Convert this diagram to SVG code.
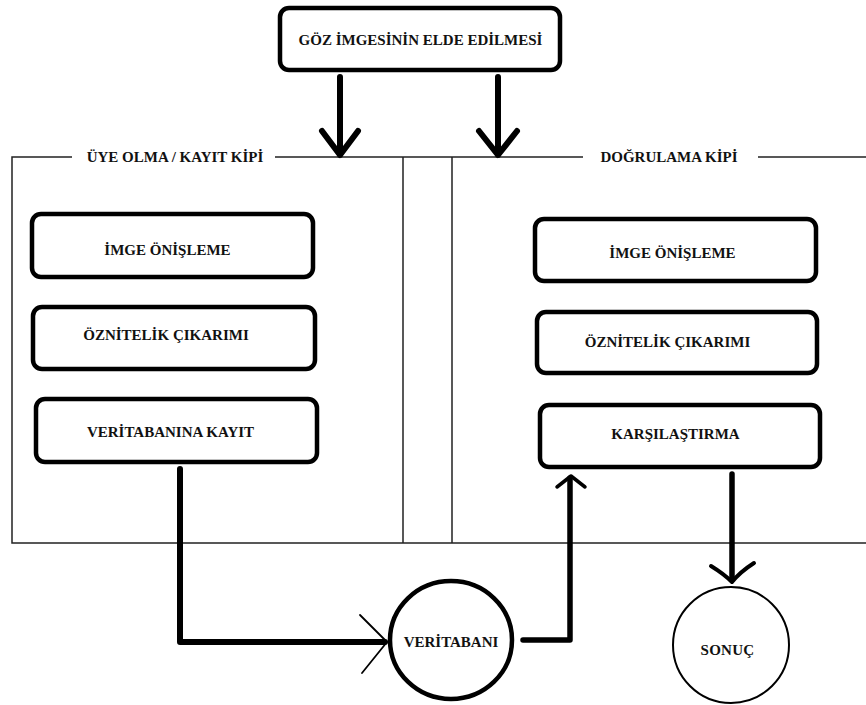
<svg xmlns="http://www.w3.org/2000/svg" width="866" height="705" viewBox="0 0 866 705">
<style>
.box{fill:#fff;stroke:#000;stroke-width:4.5}
.t{font-weight:bold;font-size:15px;fill:#111;text-anchor:middle}
.frame{fill:none;stroke:#222;stroke-width:1.5}
.c{fill:none;stroke:#000;stroke-linecap:round;stroke-linejoin:round}
</style>
<rect width="866" height="705" fill="#fff"/>
<g font-family="'Liberation Serif', 'Times New Roman', 'DejaVu Serif', serif">
<g id="frame">
<path class="frame" d="M72,157 H12 V543 H866 M275,157 H583 M758,157 H866 M403,157 V543 M452,157 V543"/>
<text class="t" x="175" y="162">ÜYE OLMA / KAYIT KİPİ</text>
<text class="t" x="669" y="162">DOĞRULAMA KİPİ</text>
</g>
<g id="goz">
<rect class="box" x="280" y="8" width="280" height="62" rx="9"/>
<text class="t" x="420.5" y="45">GÖZ İMGESİNİN ELDE EDİLMESİ</text>
</g>
<g id="l-imge">
<rect class="box" x="32" y="214" width="281" height="63" rx="9"/>
<text class="t" x="167.5" y="255">İMGE ÖNİŞLEME</text>
</g>
<g id="l-oznitelik">
<rect class="box" x="33" y="307" width="282" height="62" rx="9"/>
<text class="t" x="166" y="340">ÖZNİTELİK ÇIKARIMI</text>
</g>
<g id="l-kayit">
<rect class="box" x="36" y="399" width="281" height="63" rx="9"/>
<text class="t" x="170.5" y="437">VERİTABANINA KAYIT</text>
</g>
<g id="r-imge">
<rect class="box" x="535" y="219" width="281" height="62" rx="9"/>
<text class="t" x="672.5" y="258">İMGE ÖNİŞLEME</text>
</g>
<g id="r-oznitelik">
<rect class="box" x="537" y="312" width="280" height="61" rx="9"/>
<text class="t" x="667.5" y="347">ÖZNİTELİK ÇIKARIMI</text>
</g>
<g id="r-karsilastirma">
<rect class="box" x="540" y="405" width="280" height="62" rx="9"/>
<text class="t" x="675.5" y="439">KARŞILAŞTIRMA</text>
</g>
<g id="veritabani">
<ellipse cx="451" cy="640" rx="61" ry="59" fill="#fff" stroke="#000" stroke-width="4.5"/>
<text class="t" x="451" y="647">VERİTABANI</text>
</g>
<g id="sonuc">
<ellipse cx="731" cy="645" rx="58" ry="58" fill="#fff" stroke="#000" stroke-width="2"/>
<text class="t" x="727.5" y="655" font-size="14" letter-spacing="0.3">SONUÇ</text>
</g>
</g>
<g id="connectors">
<path class="c" stroke-width="6" d="M340,77 V155 M322,131 L340,155 L358,131"/>
<path class="c" stroke-width="6" d="M498,77 V155 M479,131 L498,155 L517,131"/>
<path class="c" stroke-width="6" d="M180,469 V642 H385"/>
<path class="c" stroke-width="1.8" d="M360,615 L387,642 L362,673"/>
<path class="c" stroke-width="5.5" d="M523,640 H570 V478"/>
<path class="c" stroke-width="3.5" d="M557,487 L571,476 L585,487"/>
<path class="c" stroke-width="5.5" d="M732,474 V580"/>
<path class="c" stroke-width="4" d="M711,566 Q724,574 732,582 Q740,572 754,563"/>
</g>
</svg>
